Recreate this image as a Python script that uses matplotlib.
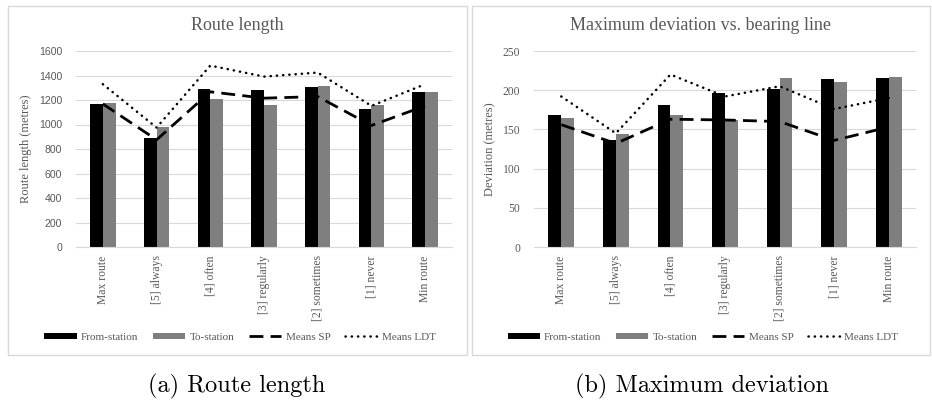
import matplotlib
matplotlib.use("Agg")
import matplotlib.pyplot as plt
from matplotlib.patches import Rectangle, Patch
from matplotlib.lines import Line2D
import numpy as np

categories = ["Max route", "[5] always", "[4] often", "[3] regularly",
              "[2] sometimes", "[1] never", "Min route"]

# (a) Route length
route_from = [1170, 893, 1293, 1278, 1308, 1127, 1268]
route_to = [1178, 983, 1208, 1158, 1318, 1163, 1262]
route_sp = [1168, 875, 1267, 1215, 1228, 992, 1152]
route_ldt = [1329, 975, 1481, 1391, 1424, 1152, 1329]
route_yticks = [0, 200, 400, 600, 800, 1000, 1200, 1400, 1600]

# (b) Maximum deviation
dev_from = [168, 136, 181, 197, 202, 214, 216]
dev_to = [164, 144, 168, 162, 215, 210, 217]
dev_sp = [156, 132, 163, 162, 160, 136, 153]
dev_ldt = [192, 145, 220, 192, 205, 176, 190]
dev_yticks = [0, 50, 100, 150, 200, 250]

W, H = 932, 400
fig = plt.figure(figsize=(W / 100, H / 100), dpi=100)

SERIF = "Liberation Serif"
SANS = "Liberation Sans"
TXT = "#595959"
GRID = "#d9d9d9"
BLACK = "#000000"
GREY = "#7f7f7f"


def fx(px):
    return px / W


def fy(py):
    return 1 - py / H


# panel borders
for x0, x1 in [(8, 467), (472, 930)]:
    fig.patches.append(Rectangle((fx(x0), fy(355)), fx(x1 - x0), (355 - 6) / H,
                                 transform=fig.transFigure, fill=False,
                                 edgecolor=GRID, linewidth=1.0))


def draw(ax, fr, to, sp, ldt, yticks, ytick_font, ylabel, ylab_x):
    x = np.arange(len(categories))
    bw = 0.236
    ax.bar(x - bw / 2, fr, width=bw, color=BLACK, zorder=2)
    ax.bar(x + bw / 2, to, width=bw, color=GREY, zorder=2)
    ax.plot(x, sp, color=BLACK, linewidth=2.0, linestyle=(0, (5.0, 2.6)), zorder=3)
    ax.plot(x, ldt, color=BLACK, linewidth=1.8, linestyle=(0, (0.1, 2.4)),
            dash_capstyle="round", zorder=3)
    ax.set_xlim(-0.5, len(categories) - 0.5)
    ax.set_ylim(yticks[0], yticks[-1])
    ax.set_yticks(yticks)
    ax.set_yticklabels([str(v) for v in yticks], fontfamily=ytick_font,
                       fontsize=8.4 if ytick_font == SERIF else 7.6, color=TXT)
    ax.set_xticks(x)
    ax.set_xticklabels(categories, rotation=90, fontfamily=SERIF, fontsize=8.4,
                       color=TXT, va="top")
    ax.tick_params(axis="both", length=0)
    ax.tick_params(axis="y", pad=10)
    ax.tick_params(axis="x", pad=6)
    ax.grid(axis="y", color=GRID, linewidth=0.8, zorder=0)
    ax.set_axisbelow(True)
    for s in ["top", "right", "left"]:
        ax.spines[s].set_visible(False)
    ax.spines["bottom"].set_color(GRID)
    ax.spines["bottom"].set_linewidth(0.8)
    ax.set_ylabel(ylabel, fontfamily=SERIF, fontsize=9, color=TXT)
    ax.yaxis.set_label_coords(ylab_x, 0.5)


ax1 = fig.add_axes([fx(76), fy(247), fx(452 - 76), (247 - 51) / H])
draw(ax1, route_from, route_to, route_sp, route_ldt, route_yticks, SANS,
     "Route length (metres)", (32 - 76) / 376)

ax2 = fig.add_axes([fx(534), fy(247), fx(916 - 534), (247 - 51) / H])
draw(ax2, dev_from, dev_to, dev_sp, dev_ldt, dev_yticks, SERIF,
     "Deviation (metres)", (496 - 534) / 382)

# chart titles
fig.text(fx(237), fy(26), "Route length", ha="center", va="center",
         fontfamily=SERIF, fontsize=13, color=TXT)
fig.text(fx(701), fy(26), "Maximum deviation vs. bearing line", ha="center",
         va="center", fontfamily=SERIF, fontsize=13, color=TXT)

# legends
handles = [
    Patch(facecolor=BLACK, edgecolor="none"),
    Patch(facecolor=GREY, edgecolor="none"),
    Line2D([], [], color=BLACK, linewidth=2.0, linestyle=(0, (5.0, 2.6))),
    Line2D([], [], color=BLACK, linewidth=1.8, linestyle=(0, (0.1, 2.4)),
           dash_capstyle="round"),
]
labels = ["From-station", "To-station", "Means SP", "Means LDT"]
for cx in [240, 703]:
    leg = fig.legend(handles, labels, loc="center",
                     bbox_to_anchor=(fx(cx), fy(337)), ncol=4, frameon=False,
                     prop={"family": SERIF, "size": 8}, handlelength=2.9,
                     handleheight=0.45, handletextpad=0.4, columnspacing=1.3,
                     labelcolor=TXT)

# sub-captions
fig.text(fx(237), fy(386), "(a) Route length", ha="center", va="center",
         fontfamily="cmr10", fontsize=17.5, color="black")
fig.text(fx(702), fy(386), "(b) Maximum deviation", ha="center", va="center",
         fontfamily="cmr10", fontsize=17.5, color="black")

fig.savefig("out.png", dpi=100)
